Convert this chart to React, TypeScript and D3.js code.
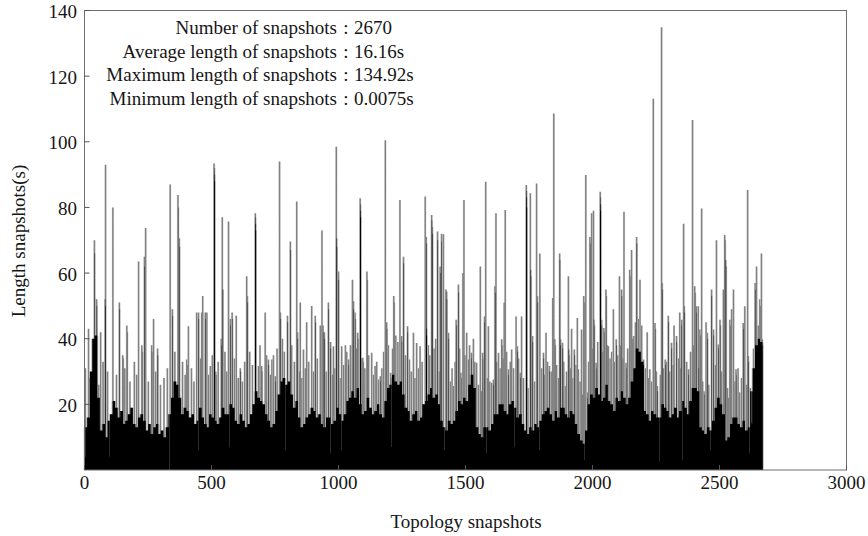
import React, { useMemo } from 'react';
import * as d3 from 'd3';

// Snapshot lengths (seconds). The dense lower band is kept as one level per
// block of 10 snapshots; individual snapshots above or below it override it.
const snapshotCount = 2670;
const floorBlockSize = 10;
const floorLevels = [
  13, 16, 30, 40, 41, 22, 12, 14, 10, 15, 17, 21, 19, 16, 18, 14, 15, 17, 19, 14,
  13, 16, 17, 15, 12, 14, 11, 13, 14, 11, 12, 10, 13, 17, 22, 27, 26, 22, 17, 19,
  18, 16, 17, 14, 15, 19, 16, 14, 13, 17, 16, 15, 14, 16, 19, 17, 17, 20, 19, 15,
  14, 17, 15, 13, 14, 17, 20, 24, 22, 21, 20, 17, 15, 13, 14, 18, 23, 27, 28, 26,
  27, 23, 19, 21, 16, 13, 14, 16, 17, 19, 18, 16, 17, 14, 13, 16, 16, 14, 15, 19,
  17, 15, 17, 21, 22, 24, 22, 25, 20, 17, 18, 22, 19, 17, 18, 20, 17, 16, 21, 25,
  26, 29, 27, 26, 27, 23, 19, 18, 15, 17, 18, 15, 16, 20, 21, 23, 25, 22, 23, 20,
  15, 13, 12, 15, 14, 15, 18, 21, 20, 22, 21, 26, 29, 25, 13, 11, 10, 13, 13, 12,
  14, 17, 17, 20, 20, 18, 17, 20, 21, 19, 16, 17, 14, 12, 11, 13, 12, 14, 13, 15,
  17, 18, 19, 17, 15, 18, 16, 19, 19, 17, 16, 18, 17, 14, 11, 9, 8, 12, 20, 23,
  22, 25, 23, 21, 22, 26, 21, 20, 18, 22, 21, 24, 22, 20, 22, 27, 31, 37, 36, 33,
  18, 17, 15, 18, 17, 16, 16, 20, 19, 18, 16, 17, 19, 16, 18, 21, 19, 17, 21, 25,
  25, 24, 13, 12, 11, 13, 12, 15, 19, 22, 20, 17, 9, 10, 14, 16, 16, 14, 13, 15,
  12, 13, 24, 31, 38, 40, 39,
];

// Single snapshots standing just above the lower band: [snapshot, length]
const midSnapshots: [number, number][] = [
  [20, 28], [55, 26], [72, 33], [90, 30], [125, 29], [158, 31], [178, 27], [195, 33], [205, 29],
  [250, 27], [280, 30], [298, 26], [312, 28], [325, 31], [355, 36], [385, 33], [395, 29], [420, 31],
  [430, 27], [455, 34], [488, 29], [502, 35], [525, 33], [552, 36], [558, 30], [590, 34], [604, 28],
  [620, 27], [630, 33], [650, 36], [660, 32], [690, 38], [716, 35], [730, 29], [743, 35], [757, 37],
  [778, 40], [785, 36], [815, 38], [825, 33], [845, 30], [855, 28], [868, 31], [882, 33], [900, 30],
  [915, 34], [950, 30], [975, 29], [985, 31], [1005, 28], [1018, 32], [1032, 36], [1046, 38],
  [1070, 37], [1090, 34], [1103, 31], [1118, 35], [1137, 29], [1150, 33], [1170, 31], [1177, 36],
  [1195, 38], [1212, 37], [1225, 41], [1233, 39], [1262, 35], [1285, 30], [1300, 28], [1314, 31],
  [1328, 33], [1352, 38], [1358, 35], [1375, 37], [1382, 40], [1395, 30], [1440, 27], [1446, 31],
  [1458, 33], [1476, 37], [1497, 35], [1515, 38], [1530, 40], [1536, 33], [1550, 26], [1562, 24],
  [1585, 28], [1595, 27], [1622, 33], [1635, 31], [1647, 34], [1661, 36], [1675, 33], [1688, 31],
  [1708, 34], [1727, 28], [1745, 25], [1770, 27], [1798, 31], [1811, 29], [1822, 33], [1836, 30],
  [1858, 32], [1865, 28], [1886, 33], [1897, 30], [1912, 31], [1922, 28], [1934, 32], [1950, 27],
  [1960, 23], [1984, 33], [2000, 37], [2020, 39], [2040, 36], [2057, 38], [2068, 34], [2075, 36],
  [2087, 33], [2099, 35], [2110, 38], [2119, 34], [2138, 37], [2158, 40], [2168, 45], [2180, 46],
  [2193, 44], [2207, 31], [2220, 28], [2232, 27], [2250, 30], [2266, 29], [2280, 31], [2292, 33],
  [2303, 30], [2316, 32], [2338, 34], [2346, 31], [2370, 33], [2385, 36], [2398, 38], [2418, 31],
  [2433, 27], [2457, 26], [2482, 32], [2508, 30], [2530, 25], [2535, 22], [2560, 27], [2572, 31],
  [2586, 28], [2605, 26], [2620, 25], [2633, 37], [2651, 44],
];

// Taller snapshots: [first snapshot, lengths of consecutive snapshots]
const peaks: [number, number[]][] = [
  [2, [31]], [15, [43]], [38, [70, 66]], [47, [52, 50]], [63, [42]], [80, [52, 50]], [82, [93]],
  [111, [80]], [136, [51, 49]], [150, [35, 34]], [166, [44, 42]], [212, [63.5]], [225, [38, 36]],
  [235, [65, 62]], [240, [73.7]], [264, [38, 36]], [271, [46]], [287, [37, 35]], [336, [87]],
  [345, [49, 47]], [367, [83.8, 80]], [372, [70.6, 68]], [402, [33.7, 32]], [408, [43.8]],
  [441, [48]], [448, [48, 46]], [461, [48]], [465, [53]], [474, [48, 46]], [481, [48]], [494, [31.7]],
  [509, [93.4, 92, 90, 88]], [516, [30, 29]], [537, [40, 38]], [541, [77]], [544, [55]], [566, [75.7]],
  [573, [46, 44]], [580, [48, 46]], [596, [47]], [612, [31, 30]], [638, [59]], [640, [53, 51]],
  [671, [78.2, 77, 75, 73]], [684, [31.7]], [697, [31.7, 30]], [710, [48]], [723, [33.7, 32]],
  [737, [33.7]], [750, [28.6, 27]], [767, [94]], [770, [48, 46]], [798, [47, 45]], [809, [69.6, 67]],
  [835, [81.8]], [838, [42, 40]], [848, [51]], [861, [36.7]], [874, [45]], [894, [50]], [907, [47, 45]],
  [927, [44]], [934, [73]], [938, [44, 42]], [943, [42, 40]], [959, [51, 49]], [968, [39, 37]],
  [979, [37.7]], [990, [98.5]], [992, [70.6, 68]], [999, [60.5, 58]], [1012, [37.7]], [1026, [38]],
  [1039, [33.7, 32]], [1054, [58]], [1058, [51.4, 49]], [1064, [48, 46]], [1075, [41.8, 40]],
  [1084, [82.8, 81, 79, 77]], [1095, [34.2, 33]], [1111, [60.5, 58]], [1130, [35.7]], [1143, [31.7]],
  [1156, [27.6]], [1163, [28.6, 27]], [1183, [100.5]], [1189, [45, 43]], [1205, [29.6, 28]],
  [1217, [53, 51]], [1241, [82.3]], [1248, [40.8, 39]], [1255, [65, 63]], [1271, [43.8, 42]],
  [1278, [33.7]], [1294, [41.8]], [1307, [38.7]], [1320, [37.7]], [1340, [83.3]], [1344, [71, 69]],
  [1346, [43, 41]], [1366, [77.7, 76, 74, 72]], [1389, [72.7, 70]], [1399, [62, 60]], [1405, [72, 69.6]],
  [1412, [71.8]], [1422, [55]], [1425, [54.4, 52]], [1432, [41.8, 40]], [1452, [25.6]], [1462, [45.8, 44]],
  [1471, [56.5, 54]], [1481, [29.6, 28]], [1489, [60]], [1493, [82.3]], [1504, [41.8]], [1510, [33.7]],
  [1523, [35.7, 34]], [1543, [32.7]], [1557, [62]], [1567, [35.7, 34]], [1574, [46.8, 45]], [1579, [87.8]],
  [1589, [43.8]], [1602, [26.6]], [1609, [27.6, 26]], [1615, [56, 54]], [1619, [78.2]], [1629, [35.7]],
  [1642, [39.8, 38]], [1651, [51]], [1655, [79.2]], [1668, [30.7, 29]], [1681, [36.7]], [1698, [46.8]],
  [1703, [37.7, 36]], [1714, [29.6, 28]], [1720, [46.8]], [1738, [86.8, 85, 83, 80]], [1754, [84.3]],
  [1756, [61, 59]], [1763, [40.8, 39]], [1779, [87.3]], [1782, [52.9, 51]], [1792, [66]], [1806, [35.7, 34]],
  [1816, [41.8]], [1829, [31.7, 30]], [1843, [52.4]], [1847, [108.6]], [1851, [39.8, 38]], [1870, [66, 64]],
  [1873, [39.8, 38]], [1881, [38.8, 37]], [1891, [25.6]], [1904, [59]], [1906, [36.7, 35]], [1917, [43]],
  [1927, [36.7, 35]], [1939, [46.3]], [1943, [30.7]], [1956, [42.8]], [1965, [53, 51]], [1973, [89.9]],
  [1979, [23.6, 22]], [1989, [71, 69]], [1996, [78.2]], [2003, [79]], [2005, [45.8, 44]], [2013, [32.7, 31]],
  [2029, [84.8, 83, 81, 79]], [2035, [45.8, 44]], [2044, [43.3, 42]], [2052, [55, 53]], [2061, [37.7]],
  [2081, [49]], [2092, [39.8, 38]], [2105, [59]], [2114, [55, 53]], [2123, [78.7]], [2131, [32.7, 31]],
  [2146, [61, 59]], [2153, [67]], [2162, [40.8]], [2173, [71, 69]], [2186, [58]], [2200, [33.7, 32]],
  [2214, [42]], [2225, [30.7]], [2238, [113.1]], [2245, [44.8, 43]], [2254, [25.6, 24]], [2271, [134.92]],
  [2273, [57, 55]], [2285, [33.7, 32]], [2297, [47, 45]], [2310, [38.8, 37]], [2320, [44]], [2330, [40.8, 39]],
  [2343, [48]], [2350, [45.8, 44]], [2358, [75]], [2360, [50, 48]], [2377, [30.7, 29]], [2393, [106.6]],
  [2402, [56, 54]], [2409, [49.9, 48]], [2415, [49.9]], [2422, [42.8, 41]], [2429, [79.7]], [2438, [24, 23]],
  [2446, [45]], [2451, [41.8, 40]], [2468, [55, 53]], [2475, [42.8, 41]], [2487, [70]], [2494, [38.2, 37]],
  [2501, [45.8, 44]], [2514, [55]], [2520, [71.6, 70]], [2524, [64, 62]], [2540, [45.8, 44]], [2547, [49]],
  [2554, [55]], [2564, [30.7, 29]], [2579, [23.6]], [2592, [44.8, 43]], [2599, [49.9]], [2610, [85.3]],
  [2612, [34.7, 33]], [2626, [14.5, 14]], [2639, [57, 55]], [2645, [62]], [2658, [52, 50]], [2664, [66]],
  [2667, [39.8, 39, 38]],
];

// Very short snapshots that cut notches into the lower band: [snapshot, length]
const shortSnapshots: [number, number][] = [
  [4, 4], [96, 4], [333, 0.0075], [447, 6], [569, 7], [789, 6], [967, 5], [1010, 6], [1207, 7],
  [1415, 6], [1583, 5], [1691, 7], [1789, 6], [1968, 3], [2262, 2.5], [2353, 3], [2463, 6], [2616, 5],
];

const xTickValues = [0, 500, 1000, 1500, 2000, 2500, 3000];
const yTickValues = [20, 40, 60, 80, 100, 120, 140];
const statNames = [
  'Number of snapshots',
  'Average length of snapshots',
  'Maximum length of snapshots',
  'Minimum length of snapshots',
];
const statValues = ['2670', '16.16s', '134.92s', '0.0075s'];

function buildLengths(): number[] {
  const lengths = d3
    .range(snapshotCount)
    .map((i) => floorLevels[Math.min(floorLevels.length - 1, Math.floor(i / floorBlockSize))]);
  for (const [i, v] of midSnapshots) lengths[i] = v;
  for (const [start, values] of peaks) {
    values.forEach((v, k) => {
      if (start + k < snapshotCount) lengths[start + k] = v;
    });
  }
  for (const [i, v] of shortSnapshots) lengths[i] = v;
  return lengths;
}

const W = 868;
const H = 536;
const plot = { left: 84.5, right: 846.5, top: 10.5, bottom: 470 };
const font = "'Liberation Serif', 'Times New Roman', serif";
const ink = '#161616';

export default function App() {
  const lengths = useMemo(buildLengths, []);
  const x = d3.scaleLinear().domain([0, 3000]).range([plot.left, plot.right]);
  const y = d3.scaleLinear().domain([0, 140]).range([plot.bottom, plot.top]);

  // All bars go into one path so that neighbouring bars merge into solid ink.
  const barPath = (width: number) => {
    const p = d3.path();
    lengths.forEach((v, i) => {
      const cx = x(i + 1);
      const top = y(v);
      p.rect(cx - width / 2, top, width, y(0) - top);
    });
    return p.toString();
  };
  const step = x(1) - x(0);
  // Grey bar faces, then their dark outlines drawn as a thin core.
  const faces = useMemo(() => barPath(2.1), [lengths]);
  const edges = useMemo(() => barPath(step * 1.1), [lengths]);

  return (
    <svg
      width={W}
      height={H}
      style={{ position: 'absolute', left: 0, top: 0, background: '#fff' }}
      fontFamily={font}
    >
      <rect x={0} y={0} width={W} height={H} fill="#fff" />
      <path d={faces} fill="#b3b3b3" />
      <path d={edges} fill="#000" />
      <rect
        x={plot.left}
        y={plot.top}
        width={plot.right - plot.left}
        height={plot.bottom - plot.top}
        fill="none"
        stroke="#6e6e6e"
        strokeWidth={1}
      />
      {yTickValues.map((v) => (
        <g key={`y${v}`}>
          <line x1={plot.left} x2={plot.left + 5} y1={y(v)} y2={y(v)} stroke="#555" />
          <text x={77} y={y(v) + 1} textAnchor="end" dominantBaseline="central" fontSize={19} fill={ink}>
            {v}
          </text>
        </g>
      ))}
      {xTickValues.map((v) => (
        <g key={`x${v}`}>
          <line x1={x(v)} x2={x(v)} y1={plot.bottom} y2={plot.bottom - 5} stroke="#555" />
          <text x={x(v)} y={489} textAnchor="middle" fontSize={19} fill={ink}>
            {v}
          </text>
        </g>
      ))}
      <text
        transform="translate(18, 241) rotate(-90)"
        textAnchor="middle"
        dominantBaseline="central"
        fontSize={19}
        fill={ink}
      >
        Length snapshots(s)
      </text>
      <text x={466} y={528} textAnchor="middle" fontSize={19} fill={ink}>
        Topology snapshots
      </text>
      {statNames.map((name, i) => (
        <g key={name} fontSize={19} fill={ink}>
          <text x={337} y={34 + i * 23.7} textAnchor="end">
            {name}
          </text>
          <text x={346} y={34 + i * 23.7} textAnchor="middle">
            :
          </text>
          <text x={354} y={34 + i * 23.7}>
            {statValues[i]}
          </text>
        </g>
      ))}
    </svg>
  );
}
